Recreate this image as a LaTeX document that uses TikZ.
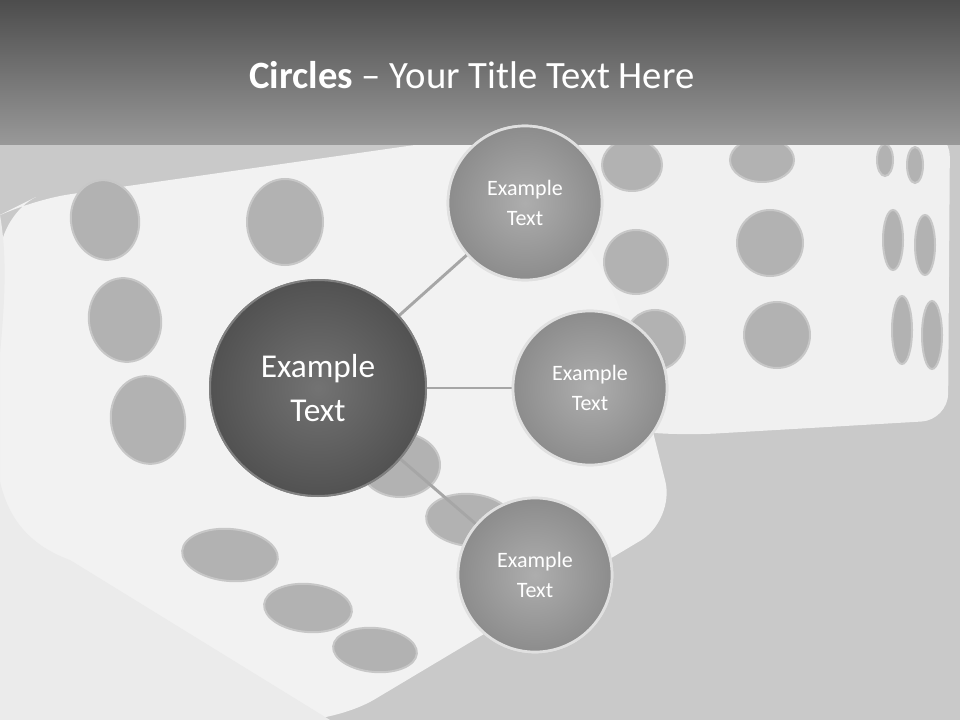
\documentclass[tikz,border=0pt]{standalone}
\usepackage{fontspec}
\setmainfont{Carlito}
\begin{document}
\begin{tikzpicture}[x=0.75pt,y=-0.75pt,
  pip/.style={fill=black!30,draw=black!22,line width=1.5pt},
  small/.style={circle,minimum size=154*0.75pt,inner sep=0pt,draw=black!12,line width=2pt,
     inner color=black!32,outer color=black!45,text=white,align=center,font=\fontsize{16.5}{22}\selectfont},
  big/.style={circle,minimum size=216*0.75pt,inner sep=0pt,draw=black!50,line width=1.5pt,
     inner color=black!55,outer color=black!68,text=white,align=center,font=\fontsize{25}{33}\selectfont},
  link/.style={draw=black!35,line width=2.2pt}]
\useasboundingbox (0,0) rectangle (960,720);
\fill[black!21] (0,0) rectangle (960,720);
% right die
\fill[black!6,rounded corners=20] (575,130) -- (950,130) -- (948,420) -- (690,435) -- (600,430) -- cycle;
% left die
\fill[black!5,rounded corners=30] (0,215) -- (30,200) -- (520,130) -- (620,300) -- (675,520) -- (340,720) -- (0,720) -- cycle;
\fill[black!8] (0,215) to[out=-80,in=160] (70,560) -- (330,720) -- (0,720) -- cycle;
% pips
\foreach \x/\y/\a/\b/\r in {105/220/34/40/10,125/320/36/42/10,148/420/37/44/10,285/222/38/43/0,400/465/40/32/0,230/555/48/26/-5,308/608/44/24/-5,375/650/42/22/-5,470/520/44/26/-5,632/165/30/26/0,636/262/32/32/0,655/340/30/30/0,770/243/33/33/0,777/335/33/33/0,762/160/32/22/0,885/160/8/16/0,915/165/8/18/0,893/240/10/30/0,925/245/10/30/0,902/330/10/34/0,932/335/10/34/0}
  \filldraw[pip,rotate around={\r:(\x,\y)}] (\x,\y) ellipse [x radius=\a,y radius=\b];
% header
\shade[top color=black!70,bottom color=black!40] (0,0) rectangle (960,145);
\node (title) at (472,75) {\fontsize{29}{34}\selectfont\color{white}\textbf{Circles} – Your Title Text Here};
% circles
\node[big] (m) at (318,388) {};
\node[small] (a) at (525,203) {};
\node[small] (b) at (590,388) {};
\node[small] (c) at (535,575) {};
\draw[link] (m) -- (a);
\draw[link] (m) -- (b);
\draw[link] (m) -- (c);
\node[big] at (m) {Example\\Text};
\node[small] at (a) {Example\\Text};
\node[small] at (b) {Example\\Text};
\node[small] at (c) {Example\\Text};
\end{tikzpicture}
\end{document}
